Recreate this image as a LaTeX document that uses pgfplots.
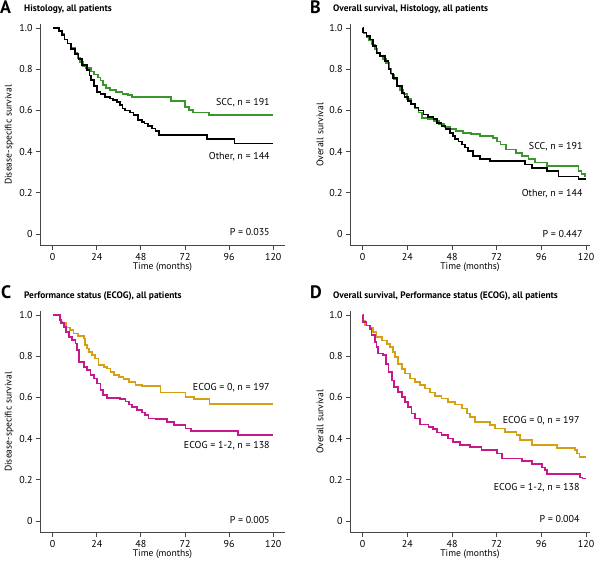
\documentclass[border=0pt]{standalone}
\usepackage{fontspec}
\setmainfont{PT Sans}
\usepackage{pgfplots}
\pgfplotsset{compat=1.18}

\definecolor{sccgreen}{RGB}{58,150,44}
\definecolor{ecoggold}{RGB}{214,160,20}
\definecolor{ecogmag}{RGB}{200,25,140}
\definecolor{axgray}{RGB}{70,70,70}

\newcommand{\fs}{\fontsize{10}{11}\selectfont}

\pgfplotsset{km/.style={
  scale only axis, axis lines=left, axis line style={-, axgray, line width=1pt},
  tick align=outside, major tick length=4pt, tick style={axgray, line width=1pt},
  xtick={0,24,48,72,96,120}, xticklabels={0,24,48,72,96,120},
  ytick={0,0.2,0.4,0.6,0.8,1.0}, yticklabels={0,0.2,0.4,0.6,0.8,1.0},
  ymin=-0.058, ymax=1.02, height=222pt,
  /pgf/number format/assume math mode=true,
  tick label style={font=\fs, black},
  label style={font=\fontsize{9.6}{10}\selectfont},
  xlabel={Time (months)},
  xlabel style={yshift=5pt},
  ylabel style={yshift=-1pt},
  every axis plot/.append style={const plot, line width=1.7pt, no marks},
  clip=false,
}}

\pgfplotstableread{
t s
0 1.0
3.5 0.985
5 0.97
6.5 0.945
8 0.925
10 0.905
12 0.88
13.5 0.855
15 0.835
16.5 0.815
18 0.805
21 0.79
22.5 0.775
24.5 0.76
26 0.745
27.5 0.725
29 0.71
31 0.70
34.5 0.69
38 0.68
41 0.675
43 0.664
64.5 0.645
72 0.618
74 0.602
76.5 0.59
85 0.578
120 0.578
}\Ascc
\pgfplotstableread{
t s
0 1.0
3.5 0.985
5 0.965
6.5 0.945
8 0.925
10 0.9
12 0.875
14 0.85
16 0.82
18.5 0.795
20 0.77
21 0.748
22.5 0.72
24 0.69
26 0.68
28.5 0.667
31 0.658
33 0.65
35 0.64
36.5 0.626
38 0.61
39.5 0.60
42 0.59
44 0.578
46.5 0.553
48.5 0.545
50 0.537
52 0.525
54 0.513
56 0.50
58 0.48
84 0.46
99 0.44
120 0.44
}\Aother
\pgfplotstableread{
t s
0 1.0
0.5 0.975
2 0.955
3.5 0.94
5 0.92
6.5 0.9
8 0.88
9.5 0.865
11 0.85
12.5 0.83
14 0.8
15.5 0.775
17 0.75
18.5 0.72
20 0.70
22 0.68
24 0.655
26 0.63
28 0.61
30 0.59
32 0.565
35 0.56
38 0.55
41 0.535
44 0.52
47 0.51
50 0.50
54 0.49
58 0.485
63 0.475
70 0.465
72 0.45
74 0.435
77 0.41
82.5 0.395
85.5 0.38
89 0.363
92.5 0.347
99 0.33
116 0.306
117.5 0.29
119.5 0.28
120 0.28
}\Bscc
\pgfplotstableread{
t s
0 1.0
0.3 0.978
2 0.96
3.9 0.945
5.7 0.913
7.5 0.88
9.3 0.864
12 0.84
13.8 0.80
15 0.78
16.4 0.759
18.3 0.718
21 0.686
22.5 0.665
24.5 0.646
26 0.63
28 0.614
30 0.6
32.6 0.581
35 0.57
38 0.557
40 0.54
42.4 0.524
44.5 0.51
47 0.492
48.5 0.475
49.6 0.46
51.5 0.45
53.2 0.435
55 0.42
56.7 0.403
59.4 0.379
63 0.363
68.4 0.354
87.2 0.338
90.8 0.322
98.9 0.306
105.1 0.28
115.9 0.266
120 0.266
}\Bother
\pgfplotstableread{
t s
0 1.0
4.2 0.967
5 0.96
7.3 0.94
9.6 0.927
11.4 0.911
13.6 0.9
16.9 0.887
17.4 0.854
18.7 0.838
19.6 0.822
21.4 0.806
23.2 0.79
25 0.757
27.8 0.749
29.6 0.741
31.4 0.725
33.2 0.709
35.9 0.7
38.6 0.689
41.4 0.676
45 0.66
48.6 0.655
58.6 0.624
72.2 0.603
76.7 0.591
85.4 0.568
120 0.568
}\Czero
\pgfplotstableread{
t s
0 1.0
3.8 0.976
4.5 0.96
6 0.943
7.3 0.919
8.7 0.895
10.5 0.878
12.4 0.862
13.3 0.83
14.2 0.773
16.9 0.749
18.7 0.733
20.5 0.709
22.3 0.692
24.2 0.668
26 0.636
27.2 0.612
29.6 0.599
36.8 0.591
39.6 0.58
41.4 0.566
43.2 0.555
46 0.539
48.6 0.527
50.4 0.515
52.2 0.498
55.9 0.494
62.3 0.482
65.9 0.466
72.2 0.45
75.3 0.438
100.9 0.417
120 0.417
}\Cone
\pgfplotstableread{
t s
0 1.0
0.3 0.974
1.2 0.95
3.9 0.94
5.7 0.918
7.5 0.893
10.2 0.877
12.9 0.861
14.7 0.845
16.4 0.821
17.4 0.796
19.1 0.764
21 0.74
22.7 0.716
25.4 0.692
28.1 0.676
30.8 0.659
33.5 0.643
36.2 0.624
38.9 0.608
42.4 0.595
46 0.579
49.6 0.566
53.2 0.546
55.9 0.522
57.7 0.506
60.3 0.481
68.4 0.465
71.1 0.449
76.5 0.433
82.7 0.417
84.5 0.393
90.8 0.368
104.2 0.355
114.1 0.344
115.3 0.328
116.4 0.312
120 0.312
}\Dzero
\pgfplotstableread{
t s
0 1.0
0.3 0.968
2.1 0.95
3.9 0.934
4.8 0.902
6.6 0.869
7.5 0.845
8.4 0.813
11.1 0.805
12.4 0.764
13.8 0.724
15.6 0.683
17 0.651
19.1 0.627
21 0.603
22.7 0.578
24.5 0.554
26.3 0.522
28.1 0.498
30.8 0.469
35.3 0.457
37.9 0.446
39.8 0.43
42.4 0.417
46 0.401
48.7 0.384
52.3 0.368
57.7 0.36
63.9 0.344
72 0.328
74.7 0.304
85.4 0.292
90.8 0.276
96.2 0.26
98 0.247
98.9 0.228
116.8 0.212
118 0.207
120 0.207
}\Done

\begin{document}
\begin{tikzpicture}
\useasboundingbox (0,0) rectangle (600pt,561pt);

% Panel A
\begin{axis}[km, at={(40pt,315pt)}, anchor=south west, width=245pt,
  xmin=-6.9, xmax=126.4, ylabel={Disease-specific survival}]
\addplot[sccgreen] table[x=t,y=s] {\Ascc};
\addplot[black] table[x=t,y=s] {\Aother};
\node[anchor=east, font=\fs] at (axis cs:120,0.64) {SCC,\ n = 191};
\node[anchor=east, font=\fs] at (axis cs:120,0.374) {Other,\ n = 144};
\node[anchor=east, font=\fs] at (axis cs:120,0.01) {P = 0.035};
\end{axis}

% Panel B
\begin{axis}[km, at={(350pt,315pt)}, anchor=south west, width=240pt,
  xmin=-6.8, xmax=122.1, ylabel={Overall survival}]
\addplot[sccgreen] table[x=t,y=s] {\Bscc};
\addplot[black] table[x=t,y=s] {\Bother};
\node[anchor=east, font=\fs] at (axis cs:120,0.426) {SCC, n = 191};
\node[anchor=east, font=\fs] at (axis cs:120,0.198) {Other,\ n = 144};
\node[anchor=east, font=\fs] at (axis cs:120,0.0) {P = 0.447};
\end{axis}

% Panel C
\begin{axis}[km, at={(40pt,28pt)}, anchor=south west, width=245pt,
  xmin=-6.9, xmax=126.4, ylabel={Disease-specific survival}]
\addplot[ecoggold] table[x=t,y=s] {\Czero};
\addplot[ecogmag] table[x=t,y=s] {\Cone};
\node[anchor=east, font=\fs] at (axis cs:120,0.646) {ECOG = 0, n = 197};
\node[anchor=east, font=\fs] at (axis cs:120,0.364) {ECOG = 1-2, n = 138};
\node[anchor=east, font=\fs] at (axis cs:120,0.005) {P = 0.005};
\end{axis}

% Panel D
\begin{axis}[km, at={(350pt,28pt)}, anchor=south west, width=240pt,
  xmin=-6.8, xmax=122.1, ylabel={Overall survival}]
\addplot[ecoggold] table[x=t,y=s] {\Dzero};
\addplot[ecogmag] table[x=t,y=s] {\Done};
\node[anchor=east, font=\fs] at (axis cs:118.4,0.485) {ECOG = 0, n = 197};
\node[anchor=east, font=\fs] at (axis cs:118.4,0.16) {ECOG = 1-2, n = 138};
\node[anchor=east, font=\fs] at (axis cs:118.4,0.01) {P = 0.004};
\end{axis}

% Titles
\node[anchor=base west, inner sep=0pt, font=\fontsize{18}{19}\selectfont\bfseries] at (0pt,547pt) {A};
\node[anchor=base west, inner sep=0pt, font=\fontsize{9.4}{10}\selectfont\bfseries] at (24pt,549pt) {Histology, all patients};
\node[anchor=base west, inner sep=0pt, font=\fontsize{18}{19}\selectfont\bfseries] at (310pt,547pt) {B};
\node[anchor=base west, inner sep=0pt, font=\fontsize{9.4}{10}\selectfont\bfseries] at (333pt,549pt) {Overall survival, Histology, all patients};
\node[anchor=base west, inner sep=0pt, font=\fontsize{18}{19}\selectfont\bfseries] at (1pt,262pt) {C};
\node[anchor=base west, inner sep=0pt, font=\fontsize{9.4}{10}\selectfont\bfseries] at (24pt,262pt) {Performance status (ECOG), all patients};
\node[anchor=base west, inner sep=0pt, font=\fontsize{18}{19}\selectfont\bfseries] at (310pt,262pt) {D};
\node[anchor=base west, inner sep=0pt, font=\fontsize{9.4}{10}\selectfont\bfseries] at (333pt,262pt) {Overall survival, Performance status (ECOG), all patients};
\end{tikzpicture}
\end{document}
